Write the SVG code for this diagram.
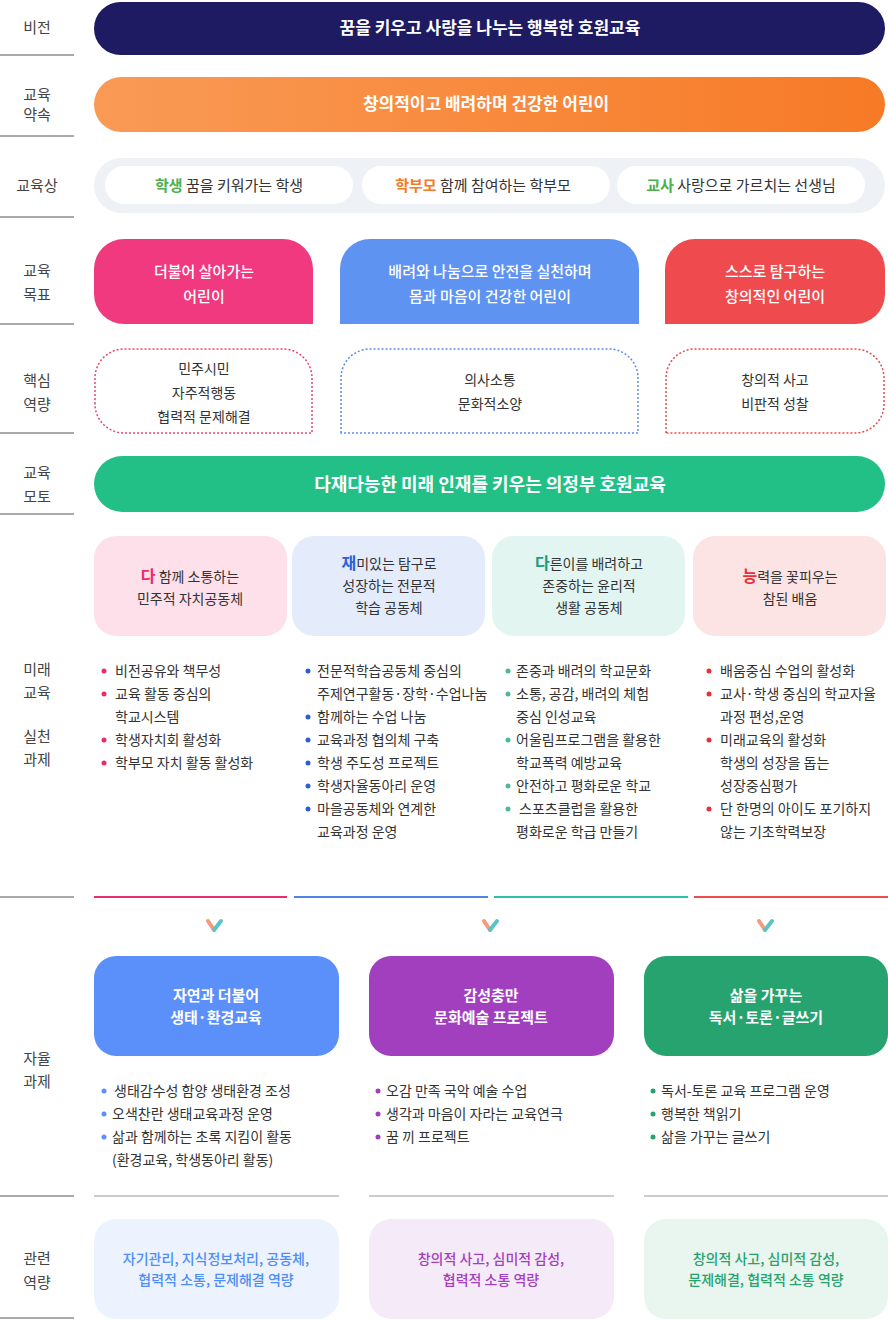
<svg xmlns="http://www.w3.org/2000/svg" width="888" height="1320" viewBox="0 0 888 1320">
<defs>
<linearGradient id="og" x1="0" x2="1"><stop offset="0" stop-color="#f99a55"/><stop offset="1" stop-color="#f77a26"/></linearGradient>
<style>
text{font-family:"Noto Sans CJK KR","Noto Sans",sans-serif}
.lb{font-size:15px;fill:#444;text-anchor:middle}
.ln{stroke:#555;stroke-width:1}
.w{fill:#fff;text-anchor:middle;font-weight:bold}
.g{fill:#fff;text-anchor:middle;font-size:15px;font-weight:500}
.c{text-anchor:middle}
.t{font-size:14px;fill:#333}
.rt{font-size:14px;text-anchor:middle;font-weight:500}
.b{font-size:14px;fill:#333}
</style>
</defs>
<rect width="888" height="1320" fill="#fff"/>
<g id="labels">
<g class="ln"><line x1="0" y1="55" x2="74" y2="55"/><line x1="0" y1="136" x2="74" y2="136"/><line x1="0" y1="217" x2="74" y2="217"/><line x1="0" y1="324" x2="74" y2="324"/><line x1="0" y1="433" x2="74" y2="433"/><line x1="0" y1="514" x2="74" y2="514"/><line x1="0" y1="897" x2="74" y2="897"/><line x1="0" y1="1196" x2="74" y2="1196"/><line x1="0" y1="1318" x2="74" y2="1318"/></g>
<text class="lb" x="37" y="33">비전</text>
<text class="lb" x="37" y="100">교육</text><text class="lb" x="37" y="120">약속</text>
<text class="lb" x="37" y="191">교육상</text>
<text class="lb" x="37" y="276">교육</text><text class="lb" x="37" y="300">목표</text>
<text class="lb" x="37" y="386">핵심</text><text class="lb" x="37" y="410">역량</text>
<text class="lb" x="37" y="478">교육</text><text class="lb" x="37" y="502">모토</text>
<text class="lb" x="37" y="675">미래</text><text class="lb" x="37" y="698">교육</text>
<text class="lb" x="37" y="742">실천</text><text class="lb" x="37" y="765">과제</text>
<text class="lb" x="37" y="1064">자율</text><text class="lb" x="37" y="1087">과제</text>
<text class="lb" x="37" y="1264">관련</text><text class="lb" x="37" y="1288">역량</text>
</g>
<g id="vision"><rect x="94" y="2" width="791" height="53" rx="26.5" fill="#1e1b63"/><text class="w" x="490" y="34" font-size="17">꿈을 키우고 사랑을 나누는 행복한 호원교육</text></g>
<g id="promise"><rect x="94" y="77" width="791" height="55" rx="27.5" fill="url(#og)"/><text class="w" x="486" y="110" font-size="17">창의적이고 배려하며 건강한 어린이</text></g>
<g id="ideal"><rect x="94" y="158" width="791" height="55" rx="27.5" fill="#eef2f6"/>
<rect x="105" y="166" width="248" height="38" rx="19" fill="#fff"/><rect x="362" y="166" width="248" height="38" rx="19" fill="#fff"/><rect x="617" y="166" width="248" height="38" rx="19" fill="#fff"/>
<text class="c" x="229" y="191" font-size="15" fill="#333"><tspan fill="#4caf50" font-weight="bold">학생</tspan> 꿈을 키워가는 학생</text>
<text class="c" x="483" y="191" font-size="15" fill="#333"><tspan fill="#f47a24" font-weight="bold">학부모</tspan> 함께 참여하는 학부모</text>
<text class="c" x="741" y="191" font-size="15" fill="#333"><tspan fill="#4caf50" font-weight="bold">교사</tspan> 사랑으로 가르치는 선생님</text></g>
<g id="goal1"><path d="M94 294V269a30 30 0 0 1 30-30h159a30 30 0 0 1 30 30v55H124a30 30 0 0 1-30-30z" fill="#f0397e"/><text class="g" x="204" y="277">더불어 살아가는</text><text class="g" x="204" y="302">어린이</text></g>
<g id="goal2"><path d="M340 324V269a30 30 0 0 1 30-30h239a30 30 0 0 1 30 30v55z" fill="#5e93f2"/><text class="g" x="490" y="277">배려와 나눔으로 안전을 실천하며</text><text class="g" x="490" y="302">몸과 마음이 건강한 어린이</text></g>
<g id="goal3"><path d="M665 324V269a30 30 0 0 1 30-30h160a30 30 0 0 1 30 30v25a30 30 0 0 1-30 30z" fill="#ef4b4f"/><text class="g" x="775" y="277">스스로 탐구하는</text><text class="g" x="775" y="302">창의적인 어린이</text></g>
<g id="comp1"><path d="M95 404V378a29 29 0 0 1 29-29h159a29 29 0 0 1 29 29v55H124a29 29 0 0 1-29-29z" fill="none" stroke="#e8476f" stroke-width="1.5" stroke-dasharray="2 2"/><text class="c t" x="204" y="374">민주시민</text><text class="c t" x="204" y="398">자주적행동</text><text class="c t" x="204" y="422">협력적 문제해결</text></g>
<g id="comp2"><path d="M341 433V378a29 29 0 0 1 29-29h239a29 29 0 0 1 29 29v55z" fill="none" stroke="#5b8de8" stroke-width="1.5" stroke-dasharray="2 2"/><text class="c t" x="490" y="385">의사소통</text><text class="c t" x="490" y="409">문화적소양</text></g>
<g id="comp3"><path d="M666 433V378a29 29 0 0 1 29-29h160a29 29 0 0 1 29 29v26a29 29 0 0 1-29 29z" fill="none" stroke="#ea4a4a" stroke-width="1.5" stroke-dasharray="2 2"/><text class="c t" x="775" y="385">창의적 사고</text><text class="c t" x="775" y="409">비판적 성찰</text></g>
<g id="motto"><rect x="94" y="456" width="791" height="56" rx="28" fill="#22c086"/><text class="w" x="490" y="491" font-size="18">다재다능한 미래 인재를 키우는 의정부 호원교육</text></g>
<g id="f1"><rect x="94" y="536" width="193" height="100" rx="22" fill="#fde0ea"/><text class="c t" x="190" y="582"><tspan fill="#ec2a6e" font-weight="bold" font-size="16">다</tspan> 함께 소통하는</text><text class="c t" x="190" y="604">민주적 자치공동체</text>
<g class="b"><text x="115" y="676">비전공유와 책무성</text><text x="115" y="699">교육 활동 중심의</text><text x="115" y="722">학교시스템</text><text x="115" y="745">학생자치회 활성화</text><text x="115" y="768">학부모 자치 활동 활성화</text></g>
<g fill="#ec2a6e"><circle cx="104" cy="671" r="2.5"/><circle cx="104" cy="694" r="2.5"/><circle cx="104" cy="740" r="2.5"/><circle cx="104" cy="763" r="2.5"/></g></g>
<g id="f2"><rect x="292" y="536" width="193" height="100" rx="22" fill="#e4ebfb"/><text class="c t" x="389" y="569"><tspan fill="#2c5fd6" font-weight="bold" font-size="16">재</tspan>미있는 탐구로</text><text class="c t" x="389" y="591">성장하는 전문적</text><text class="c t" x="389" y="613">학습 공동체</text>
<g class="b"><text x="317" y="676">전문적학습공동체 중심의</text><text x="317" y="699">주제연구활동·장학·수업나눔</text><text x="317" y="722">함께하는 수업 나눔</text><text x="317" y="745">교육과정 협의체 구축</text><text x="317" y="768">학생 주도성 프로젝트</text><text x="317" y="791">학생자율동아리 운영</text><text x="317" y="814">마을공동체와 연계한</text><text x="317" y="837">교육과정 운영</text></g>
<g fill="#2c5fd6"><circle cx="308" cy="671" r="2.5"/><circle cx="308" cy="717" r="2.5"/><circle cx="308" cy="740" r="2.5"/><circle cx="308" cy="763" r="2.5"/><circle cx="308" cy="786" r="2.5"/><circle cx="308" cy="809" r="2.5"/></g></g>
<g id="f3"><rect x="492" y="536" width="193" height="100" rx="22" fill="#e2f5f1"/><text class="c t" x="589" y="569"><tspan fill="#1b9c7e" font-weight="bold" font-size="16">다</tspan>른이를 배려하고</text><text class="c t" x="589" y="591">존중하는 윤리적</text><text class="c t" x="589" y="613">생활 공동체</text>
<g class="b"><text x="516" y="676">존중과 배려의 학교문화</text><text x="516" y="699">소통, 공감, 배려의 체험</text><text x="516" y="722">중심 인성교육</text><text x="516" y="745">어울림프로그램을 활용한</text><text x="516" y="768">학교폭력 예방교육</text><text x="516" y="791">안전하고 평화로운 학교</text><text x="519" y="814">스포츠클럽을 활용한</text><text x="516" y="837">평화로운 학급 만들기</text></g>
<g fill="#4fb89a"><circle cx="508" cy="671" r="2.5"/><circle cx="508" cy="694" r="2.5"/><circle cx="508" cy="740" r="2.5"/><circle cx="508" cy="786" r="2.5"/><circle cx="508" cy="809" r="2.5"/></g></g>
<g id="f4"><rect x="693" y="536" width="193" height="100" rx="22" fill="#fde4e4"/><text class="c t" x="790" y="582"><tspan fill="#e8303a" font-weight="bold" font-size="16">능</tspan>력을 꽃피우는</text><text class="c t" x="790" y="604">참된 배움</text>
<g class="b"><text x="720" y="676">배움중심 수업의 활성화</text><text x="720" y="699">교사·학생 중심의 학교자율</text><text x="720" y="722">과정 편성,운영</text><text x="720" y="745">미래교육의 활성화</text><text x="720" y="768">학생의 성장을 돕는</text><text x="720" y="791">성장중심평가</text><text x="720" y="814">단 한명의 아이도 포기하지</text><text x="720" y="837">않는 기초학력보장</text></g>
<g fill="#e8303a"><circle cx="709" cy="671" r="2.5"/><circle cx="709" cy="694" r="2.5"/><circle cx="709" cy="740" r="2.5"/><circle cx="709" cy="809" r="2.5"/></g></g>
<g id="connectors">
<g stroke-width="2"><line x1="94" y1="897" x2="287" y2="897" stroke="#ec2a6e"/><line x1="294" y1="897" x2="488" y2="897" stroke="#4f83ea"/><line x1="494" y1="897" x2="688" y2="897" stroke="#2fbfb0"/><line x1="694" y1="897" x2="888" y2="897" stroke="#ee4a4f"/></g>
<g stroke-width="4" stroke-linecap="round"><path d="M208 921l6 9" stroke="#f79a7a"/><path d="M214 930l7-9" stroke="#5cc4c4"/><path d="M484 921l6 9" stroke="#f79a7a"/><path d="M490 930l7-9" stroke="#5cc4c4"/><path d="M759 921l6 9" stroke="#f79a7a"/><path d="M765 930l7-9" stroke="#5cc4c4"/></g>
<g stroke="#ccc" stroke-width="2"><line x1="94" y1="1196" x2="339" y2="1196"/><line x1="369" y1="1196" x2="614" y2="1196"/><line x1="644" y1="1196" x2="888" y2="1196"/></g>
</g>
<g id="a1"><rect x="94" y="956" width="245" height="100" rx="22" fill="#5b8ffa"/><text class="w" x="216" y="1001" font-size="15">자연과 더불어</text><text class="w" x="216" y="1023" font-size="15">생태·환경교육</text>
<g class="b"><text x="114" y="1096">생태감수성 함양 생태환경 조성</text><text x="112" y="1119">오색찬란 생태교육과정 운영</text><text x="112" y="1142">삶과 함께하는 초록 지킴이 활동</text><text x="112" y="1165">(환경교육, 학생동아리 활동)</text></g>
<g fill="#5b8ffa"><circle cx="104" cy="1091" r="2.5"/><circle cx="104" cy="1114" r="2.5"/><circle cx="104" cy="1137" r="2.5"/></g></g>
<g id="a2"><rect x="369" y="956" width="245" height="100" rx="22" fill="#a23fbe"/><text class="w" x="491" y="1001" font-size="15">감성충만</text><text class="w" x="491" y="1023" font-size="15">문화예술 프로젝트</text>
<g class="b"><text x="386" y="1096">오감 만족 국악 예술 수업</text><text x="386" y="1119">생각과 마음이 자라는 교육연극</text><text x="386" y="1142">꿈 끼 프로젝트</text></g>
<g fill="#a23fbe"><circle cx="378" cy="1091" r="2.5"/><circle cx="378" cy="1114" r="2.5"/><circle cx="378" cy="1137" r="2.5"/></g></g>
<g id="a3"><rect x="644" y="956" width="244" height="100" rx="22" fill="#26a36e"/><text class="w" x="766" y="1001" font-size="15">삶을 가꾸는</text><text class="w" x="766" y="1023" font-size="15">독서·토론·글쓰기</text>
<g class="b"><text x="661" y="1096">독서-토론 교육 프로그램 운영</text><text x="661" y="1119">행복한 책읽기</text><text x="661" y="1142">삶을 가꾸는 글쓰기</text></g>
<g fill="#26a36e"><circle cx="653" cy="1091" r="2.5"/><circle cx="653" cy="1114" r="2.5"/><circle cx="653" cy="1137" r="2.5"/></g></g>
<g id="r1"><rect x="94" y="1219" width="245" height="100" rx="22" fill="#ecf3fe"/><text class="rt" x="216" y="1264" fill="#4f8ef5">자기관리, 지식정보처리, 공동체,</text><text class="rt" x="216" y="1285" fill="#4f8ef5">협력적 소통, 문제해결 역량</text></g>
<g id="r2"><rect x="369" y="1219" width="245" height="100" rx="22" fill="#f5eaf8"/><text class="rt" x="491" y="1264" fill="#a43fbd">창의적 사고, 심미적 감성,</text><text class="rt" x="491" y="1285" fill="#a43fbd">협력적 소통 역량</text></g>
<g id="r3"><rect x="644" y="1219" width="244" height="100" rx="22" fill="#e9f5ef"/><text class="rt" x="766" y="1264" fill="#26a36e">창의적 사고, 심미적 감성,</text><text class="rt" x="766" y="1285" fill="#26a36e">문제해결, 협력적 소통 역량</text></g>
</svg>
